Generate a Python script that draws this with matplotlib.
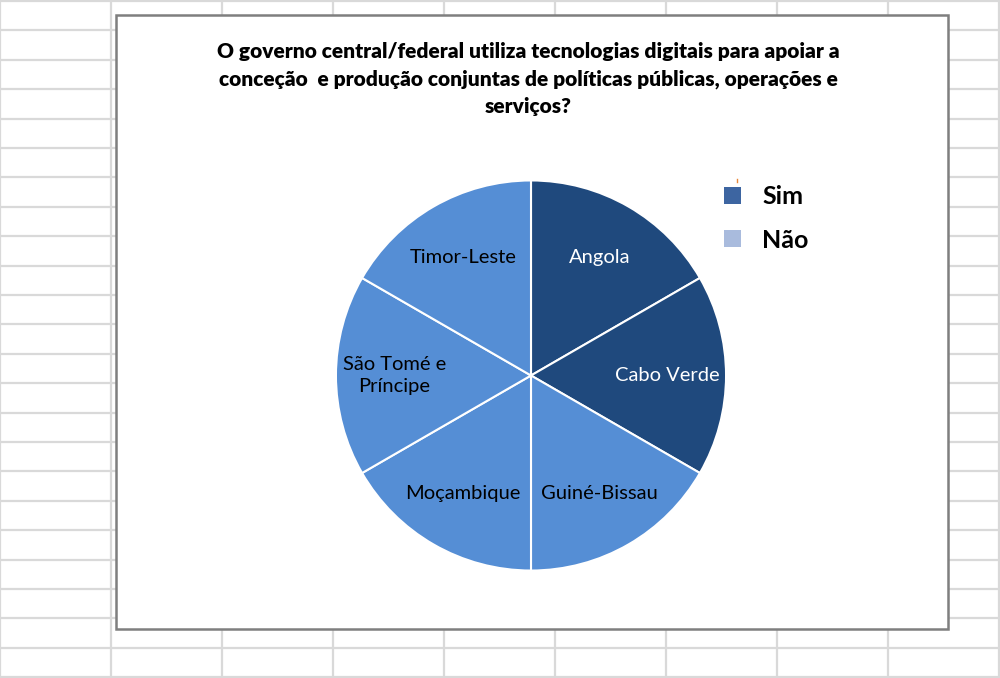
import matplotlib
import matplotlib.pyplot as plt
from matplotlib.patches import Rectangle, Patch

matplotlib.use("Agg")

# Data
title = ("O governo central/federal utiliza tecnologias digitais para apoiar a\n"
         "conceção  e produção conjuntas de políticas públicas, operações e\n"
         "serviços?")
countries = ["Angola", "Cabo Verde", "Guiné-Bissau", "Moçambique",
             "São Tomé e\nPríncipe", "Timor-Leste"]
answers = ["Sim", "Sim", "Não", "Não", "Não", "Não"]
shares = [1, 1, 1, 1, 1, 1]
legend_labels = ["Sim", "Não"]


def main():
    W, H = 1000, 678
    fig = plt.figure(figsize=(W / 100, H / 100), dpi=100)

    # spreadsheet background in pixel coords
    bg = fig.add_axes([0, 0, 1, 1])
    bg.set_xlim(0, W)
    bg.set_ylim(H, 0)
    bg.axis("off")
    for k in range(24):
        bg.axhline(1 + 29.4 * k, color="#d9d9d9", linewidth=1.6, zorder=0)
    for k in range(10):
        bg.axvline(111 * k, color="#d9d9d9", linewidth=1.6, zorder=0)

    # chart area
    bg.add_patch(Rectangle((116, 15), 832, 614, facecolor="white",
                           edgecolor="#7f7f7f", linewidth=1.8, zorder=1))
    bg.text(528, 79, title, ha="center", va="center", fontsize=15.0,
            fontweight="heavy", family="Lato",
            linespacing=1.52, zorder=2)

    # pie
    cx, cy, r = 531, 375.5, 197
    ax = fig.add_axes([(cx - r) / W, 1 - (cy + r) / H, 2 * r / W, 2 * r / H])
    col = {"Sim": "#1f497d", "Não": "#558ed5"}
    wedges, texts = ax.pie(
        shares,
        labels=countries,
        colors=[col[a] for a in answers],
        startangle=90,
        counterclock=False,
        labeldistance=0.70,
        wedgeprops=dict(edgecolor="white", linewidth=1.5),
        textprops=dict(fontsize=14.5, family="Lato", linespacing=1.35),
    )
    for t, a in zip(texts, answers):
        t.set_ha("center")
        t.set_va("center")
        t.set_color("white" if a == "Sim" else "black")
    ax.set_xlim(-1.01, 1.01)
    ax.set_ylim(-1.01, 1.01)

    # legend
    handles = [Patch(facecolor="#3d65a1", edgecolor="none"),
               Patch(facecolor="#a9bbdd", edgecolor="none")]
    leg = bg.legend(handles, legend_labels, loc="upper left",
                    bbox_to_anchor=(701 / W, 1 - 163 / H),
                    frameon=False,
                    prop=dict(weight="bold", family="Lato", size=18),
                    handlelength=0.68, handleheight=0.68,
                    labelspacing=0.8, handletextpad=0.88)
    leg.set_zorder(3)
    bg.plot([737, 737], [179, 182], color="#e8883a", linewidth=1, zorder=3)

    plt.savefig("out.png", dpi=100)
    plt.close()


if __name__ == "__main__":
    main()
